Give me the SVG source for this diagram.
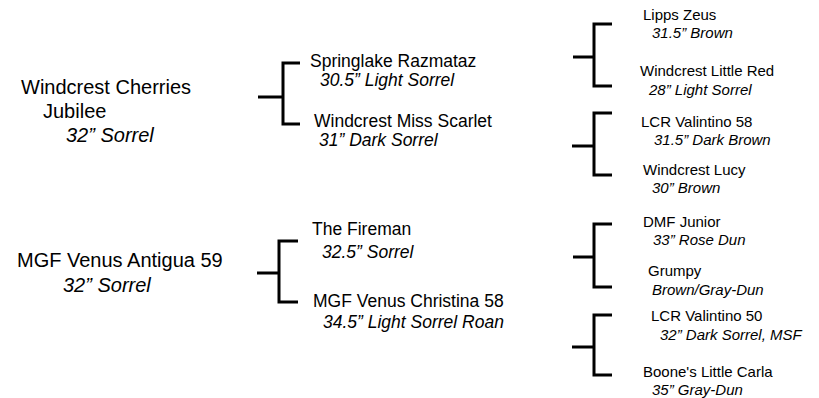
<svg xmlns="http://www.w3.org/2000/svg" width="819" height="398" viewBox="0 0 819 398">
<style>
text{font-family:"Liberation Sans",Arial,sans-serif;fill:#000}
.l{font-size:20px}
.m{font-size:17.5px}
.r{font-size:15px}
.i{font-style:italic}
.c{fill:none;stroke:#000;stroke-width:3;stroke-linecap:butt;stroke-linejoin:miter}
</style>
<rect width="819" height="398" fill="#fff"/>
<g id="connectors">
<path class="c" d="M258,97 H283 M300,63 H283 V124 H300"/>
<path class="c" d="M257,273 H279 M298,241 H279 V302 H298"/>
<path class="c" d="M573,57 H594 M612,24 H594 V86 H612"/>
<path class="c" d="M572,146 H594 M612,113 H594 V175 H612"/>
<path class="c" d="M573,257 H594 M612,224 H594 V287 H612"/>
<path class="c" d="M572,347 H594 M612,315 H594 V375 H612"/>
</g>
<g id="n-cherries"><text class="l" x="21" y="94">Windcrest Cherries</text><text class="l" x="43" y="118">Jubilee</text><text class="l i" x="66" y="142">32” Sorrel</text></g>
<g id="n-antigua"><text class="l" x="17" y="267">MGF Venus Antigua 59</text><text class="l i" x="63" y="292">32” Sorrel</text></g>
<g id="n-razmataz"><text class="m" x="310" y="67">Springlake Razmataz</text><text class="m i" x="320" y="86">30.5” Light Sorrel</text></g>
<g id="n-scarlet"><text class="m" x="314" y="127">Windcrest Miss Scarlet</text><text class="m i" x="319" y="146">31” Dark Sorrel</text></g>
<g id="n-fireman"><text class="m" x="312" y="235">The Fireman</text><text class="m i" x="322" y="258">32.5” Sorrel</text></g>
<g id="n-christina"><text class="m" x="313" y="307">MGF Venus Christina 58</text><text class="m i" x="323" y="328">34.5” Light Sorrel Roan</text></g>
<g id="n-zeus"><text class="r" x="643" y="20">Lipps Zeus</text><text class="r i" x="652" y="38">31.5” Brown</text></g>
<g id="n-littlered"><text class="r" x="640" y="76">Windcrest Little Red</text><text class="r i" x="649" y="95">28” Light Sorrel</text></g>
<g id="n-valintino58"><text class="r" x="641" y="127">LCR Valintino 58</text><text class="r i" x="654" y="145">31.5” Dark Brown</text></g>
<g id="n-lucy"><text class="r" x="643" y="175">Windcrest Lucy</text><text class="r i" x="652" y="193">30” Brown</text></g>
<g id="n-dmf"><text class="r" x="643" y="227">DMF Junior</text><text class="r i" x="653" y="245">33” Rose Dun</text></g>
<g id="n-grumpy"><text class="r" x="648" y="276">Grumpy</text><text class="r i" x="652" y="295">Brown/Gray-Dun</text></g>
<g id="n-valintino50"><text class="r" x="651" y="321">LCR Valintino 50</text><text class="r i" x="660" y="340">32” Dark Sorrel, MSF</text></g>
<g id="n-carla"><text class="r" x="643" y="377">Boone's Little Carla</text><text class="r i" x="652" y="395">35” Gray-Dun</text></g>
</svg>
